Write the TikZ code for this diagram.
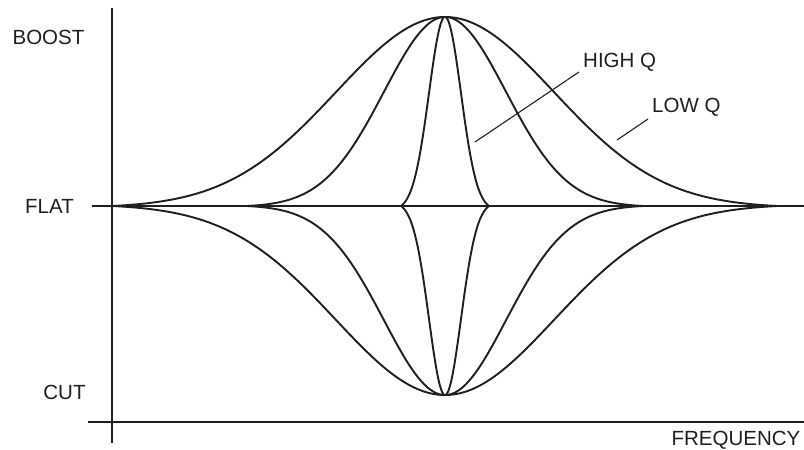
\documentclass[tikz,border=0pt]{standalone}
\usepackage{fontspec}
\setmainfont{Liberation Sans}
\begin{document}
\begin{tikzpicture}[x=1pt,y=-1pt,
  axis/.style={line width=2.6pt,color=black!88},
  curve/.style={line width=1.9pt,color=black!88,line join=round},
  leader/.style={line width=1.1pt,color=black!88},
  lbl/.style={inner sep=0pt,font=\fontsize{20.5}{24}\selectfont,text=black!88}]
\useasboundingbox (0,0) rectangle (804,450);
% axes
\coordinate (vtop) at (112,8);
\coordinate (vbot) at (112,443);
\coordinate (hl) at (88,422);
\coordinate (hr) at (804,422);
\coordinate (fl) at (92,206);
\coordinate (fr) at (804,206);
\draw[axis] (vtop) -- (vbot);
\draw[axis] (hl) -- (hr);
\draw[axis] (fl) -- (fr);
% boost curves (gaussians shifted to meet the flat line exactly)
\draw[curve] plot[domain=-3.05:3.05,samples=240,smooth] ({445+109*\x},{206-189*(exp(-\x*\x/2)-exp(-3.05*3.05/2))/(1-exp(-3.05*3.05/2))});
\draw[curve] plot[domain=-3.25:3.25,samples=240,smooth] ({445+61*\x},{206-189*(exp(-\x*\x/2)-exp(-3.25*3.25/2))/(1-exp(-3.25*3.25/2))});
\draw[curve] plot[domain=-2.75:2.75,samples=240,smooth] ({445+16*\x},{206-189*(exp(-\x*\x/2)-exp(-2.75*2.75/2))/(1-exp(-2.75*2.75/2))});
% cut curves
\draw[curve] plot[domain=-3.05:3.05,samples=240,smooth] ({445+109*\x},{206+189*(exp(-\x*\x/2)-exp(-3.05*3.05/2))/(1-exp(-3.05*3.05/2))});
\draw[curve] plot[domain=-3.25:3.25,samples=240,smooth] ({445+61*\x},{206+189*(exp(-\x*\x/2)-exp(-3.25*3.25/2))/(1-exp(-3.25*3.25/2))});
\draw[curve] plot[domain=-2.75:2.75,samples=240,smooth] ({445+16*\x},{206+189*(exp(-\x*\x/2)-exp(-2.75*2.75/2))/(1-exp(-2.75*2.75/2))});
% labels
\node[lbl] (boost) at (48.5,37) {BOOST};
\node[lbl] (flat) at (49.5,206) {FLAT};
\node[lbl] (cut) at (64.5,392) {CUT};
\node[lbl] (freq) at (736,440) {FREQUENCY};
\node[lbl,anchor=west] (highq) at (583,62.5) {HIGH Q};
\node[lbl,anchor=west] (lowq) at (652,107.5) {LOW Q};
% leaders
\coordinate (hqend) at (475,142);
\coordinate (hqstart) at (579,72);
\coordinate (lqend) at (617,140);
\coordinate (lqstart) at (648,119);
\draw[leader] (hqstart) -- (hqend);
\draw[leader] (lqstart) -- (lqend);
\end{tikzpicture}
\end{document}
